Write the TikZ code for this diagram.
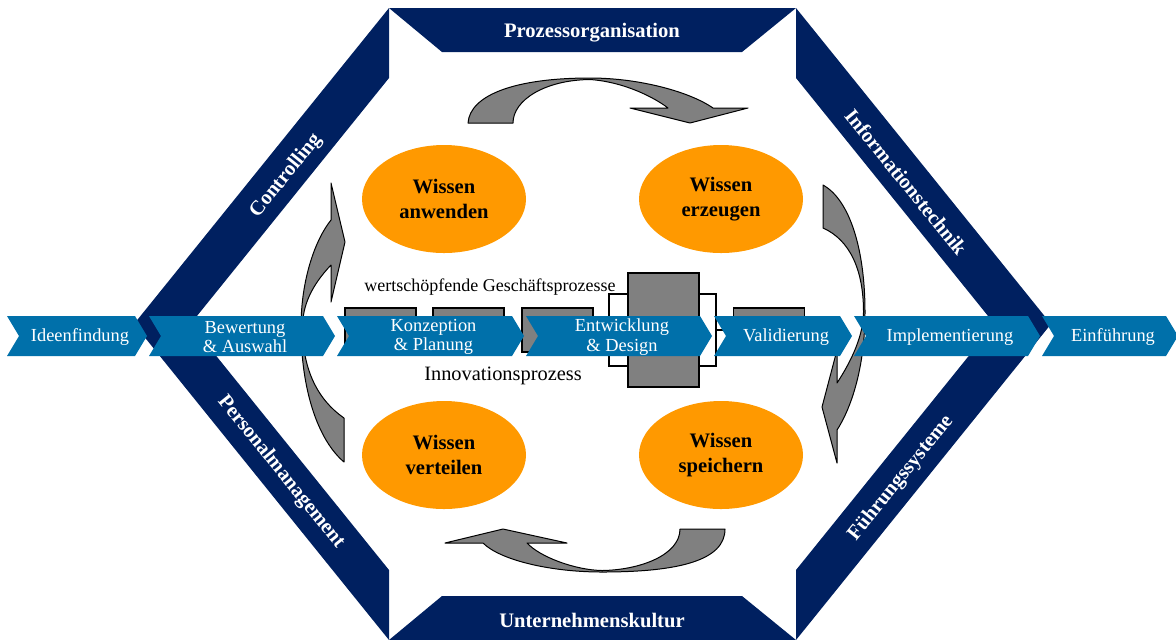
\documentclass[tikz,border=0pt]{standalone}
\usepackage{fontspec}
\setmainfont{Liberation Serif}
\usetikzlibrary{shapes.geometric}
\definecolor{navy}{HTML}{002060}
\definecolor{procblue}{HTML}{0070AA}
\definecolor{wissenorange}{HTML}{FF9900}
\definecolor{boxgray}{HTML}{808080}
\begin{document}
\begin{tikzpicture}[x=0.5pt,y=-0.5pt,
    band/.style={fill=navy},
    bandlabel/.style={text=white,inner sep=0pt,font=\fontsize{10.3}{12}\selectfont\bfseries},
    garrow/.style={fill=boxgray,draw=black,line width=0.5pt,line join=round},
    gbox/.style={fill=boxgray,draw=black,line width=0.6pt,inner sep=0pt,outer sep=0pt,
      minimum width=35.5pt,minimum height=22pt},
    proc/.style={text=white,align=center,inner sep=0pt,font=\fontsize{9.2}{9.8}\selectfont},
    wissenell/.style={ellipse,fill=wissenorange,minimum width=82pt,minimum height=54pt,
      align=center,font=\fontsize{10.3}{12.5}\selectfont\bfseries}]
      \useasboundingbox (0,0) rectangle (1176,639);
      % hexagon frame
      \fill[band] (389,8) -- (796,8) -- (742,52) -- (442,52) -- cycle;
      \fill[band] (389,640) -- (796,640) -- (742,596) -- (442,596) -- cycle;
      \fill[band] (389,8) -- (389,78) -- (190.5,324) -- (134,324) -- cycle;
      \fill[band] (389,640) -- (389,570) -- (190.5,324) -- (134,324) -- cycle;
      \fill[band] (796,8) -- (796,78) -- (994.5,324) -- (1051,324) -- cycle;
      \fill[band] (796,640) -- (796,570) -- (994.5,324) -- (1051,324) -- cycle;
      \node[bandlabel] (porg) at (592,33) {Prozessorganisation};
      \node[bandlabel] (ukult) at (592,620) {Unternehmenskultur};
      \node[bandlabel,rotate=51] (contr) at (286,176) {Controlling};
      \node[bandlabel,rotate=-51] (perso) at (281,472) {Personalmanagement};
      \node[bandlabel,rotate=-51] (infot) at (906,182) {Informationstechnik};
      \node[bandlabel,rotate=51] (fuehr) at (901,478) {Führungssysteme};
      % wertschoepfende Geschaeftsprozesse
      \foreach \n/\x in {1/380.5,2/468.5,3/557.5,5/769}
        \node[gbox] (g\n) at (\x,330) {};
      \node[gbox,fill=white,minimum width=53.5pt,minimum height=36pt] (wr) at (662.5,330) {};
      \node[gbox,minimum height=57pt] (g4) at (663.5,330) {};
      \draw[line width=0.6pt] (wr.east) -- (g5.west);
      % cycle arrows
      \filldraw[garrow] (468,123) .. controls (470,95) and (515,78) .. (590,78)
        .. controls (640,78) and (690,92) .. (713,108) -- (748,108) -- (690,123)
        -- (630,108) -- (668,108) .. controls (655,98) and (625,82) .. (590,79.5)
        .. controls (545,80) and (513,100) .. (513,123) -- cycle;
      \filldraw[garrow] (823,185) .. controls (850,200) and (865,250) .. (865,312)
        .. controls (865,370) and (850,410) .. (837,430) -- (837,463) -- (822,407)
        -- (837,350) -- (837,383) .. controls (852,360) and (863.5,335) .. (863.5,312)
        .. controls (863.5,270) and (850,240) .. (823,228) -- cycle;
      \filldraw[garrow] (725,529) .. controls (725,560) and (680,572) .. (602,572)
        .. controls (550,572) and (500,560) .. (483,543) -- (445,543) -- (503,529)
        -- (567,543) -- (527,543) .. controls (540,557) and (575,570) .. (602,570.5)
        .. controls (640,570) and (680,555) .. (680,529) -- cycle;
      \filldraw[garrow] (344,462) .. controls (318,440) and (301,390) .. (301,327)
        .. controls (301,280) and (315,240) .. (331,220) -- (331,183) -- (345,242)
        -- (331,302) -- (331,265) .. controls (312,285) and (302.5,305) .. (302.5,327)
        .. controls (302.5,370) and (318,400) .. (344,418) -- cycle;
      % Innovationsprozess
      \foreach \n/\l/\r/\t in {1/7/147/Ideenfindung,
          2/149/335/{Bewertung\\\& Auswahl},
          3/337/524/{Konzeption\\\& Planung},
          4/526/712/{Entwicklung\\\& Design},
          5/714/852/Validierung,
          6/854/1040/Implementierung,
          7/1042/1178/Einführung} {
        \fill[procblue] (\l,316) -- (\r-12,316) -- (\r,336) -- (\r-12,356)
          -- (\l,356) -- (\l+12,336) -- cycle;
        \node[proc] (p\n) at ({(\l+\r)/2+3},337) {\t};
      }
      \node[wissenell] (anw) at (444,199) {Wissen\\anwenden};
      \node[wissenell] (erz) at (721,199) {Wissen\\erzeugen};
      \node[wissenell] (ver) at (444,455) {Wissen\\verteilen};
      \node[wissenell] (spe) at (721,455) {Wissen\\speichern};
      \node[font=\fontsize{9}{11}\selectfont] (wgp) at (490,287) {wertschöpfende Geschäftsprozesse};
      \node[font=\fontsize{10.2}{12}\selectfont] (inno) at (503,376) {Innovationsprozess};
\end{tikzpicture}
\end{document}
